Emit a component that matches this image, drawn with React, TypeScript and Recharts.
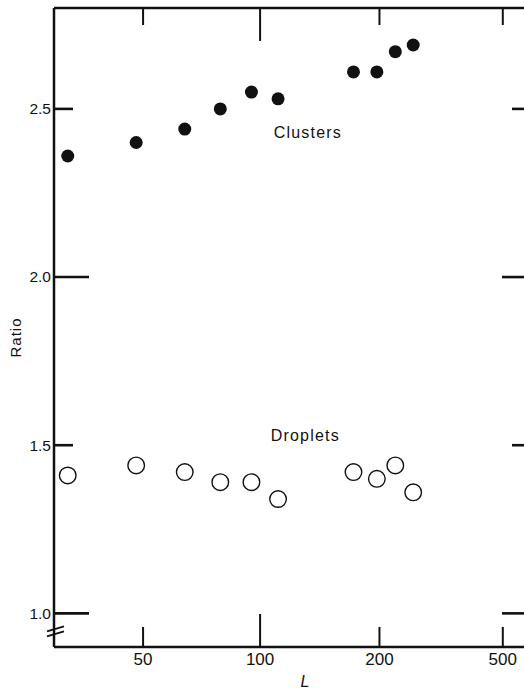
import React from 'react';
import { ScatterChart, Scatter, XAxis, YAxis, ReferenceDot } from 'recharts';

// ---- data ----
const L_VALUES = [32, 48, 64, 79, 95, 111, 172, 197, 225, 257];
const CLUSTER_RATIO = [2.36, 2.4, 2.44, 2.5, 2.55, 2.53, 2.61, 2.61, 2.67, 2.69];
const DROPLET_RATIO = [1.41, 1.44, 1.42, 1.39, 1.39, 1.34, 1.42, 1.4, 1.44, 1.36];
const X_TICKS = [50, 100, 200, 500];
const Y_TICKS = [1.0, 1.5, 2.0, 2.5];
const X_DOMAIN = [29.5, 612];
const Y_DOMAIN = [0.9, 2.8];
const SERIES_NAMES = ['Clusters', 'Droplets'];
const SERIES_LABEL_L = [132, 130];
const SERIES_LABEL_RATIO = [2.43, 1.53];

const clusterData = L_VALUES.map((x, i) => ({ x, y: CLUSTER_RATIO[i] }));
const dropletData = L_VALUES.map((x, i) => ({ x, y: DROPLET_RATIO[i] }));

// ---- axis warp: the printed L axis is log-like but not exactly logarithmic ----
const WARP_L = [50, 100, 200, 500];
const WARP_U = [0, 1, 2.02, 3.074];
const WARP_LOG = WARP_L.map((v) => Math.log(v));

function warp(v: number): number {
  const lv = Math.log(v);
  let i = 0;
  while (i < WARP_LOG.length - 2 && lv > WARP_LOG[i + 1]) i++;
  return WARP_U[i] + ((WARP_U[i + 1] - WARP_U[i]) * (lv - WARP_LOG[i])) / (WARP_LOG[i + 1] - WARP_LOG[i]);
}

function makeWarpScale(dom: number[] = [1, 10], rng: number[] = [0, 1]): any {
  let d = dom.slice();
  let r = rng.slice();
  const s: any = (v: number) => {
    const a = warp(Number(d[0]));
    const b = warp(Number(d[1]));
    return r[0] + ((r[1] - r[0]) * (warp(Number(v)) - a)) / (b - a);
  };
  s.domain = (x?: number[]) => {
    if (x === undefined) return d.slice();
    d = x.slice();
    return s;
  };
  s.range = (x?: number[]) => {
    if (x === undefined) return r.slice();
    r = x.slice();
    return s;
  };
  s.copy = () => makeWarpScale(d, r);
  s.ticks = () => X_TICKS.slice();
  s.tickFormat = () => (v: number) => String(v);
  return s;
}

const xScale = makeWarpScale(X_DOMAIN, [0, 1]);

// ---- styling ----
const INK = '#111';
const FONT = '"Liberation Sans", Arial, sans-serif';
const AXIS_LINE = { stroke: INK, strokeWidth: 2.5 };

const BottomTick = (props: any) => {
  const { x, y, payload } = props;
  const axisY = y - 6;
  const len = payload.value === 100 ? 33 : 20;
  return (
    <g>
      <line x1={x} x2={x} y1={axisY} y2={axisY - len} stroke={INK} strokeWidth={2} />
      <text x={x} y={y} dy="0.71em" textAnchor="middle" fontFamily={FONT} fontSize={17} fill={INK}>
        {payload.value}
      </text>
    </g>
  );
};

const TopTick = (props: any) => {
  const { x, y, payload } = props;
  const len = payload.value === 100 ? 33 : 17;
  return <line x1={x} x2={x} y1={y} y2={y + len} stroke={INK} strokeWidth={2} />;
};

const LeftTick = (props: any) => {
  const { x, y, payload } = props;
  const axisX = x + 3;
  const v = Number(payload.value);
  const major = Math.abs(v - Math.round(v)) < 1e-6;
  const len = major ? 35 : 19;
  return (
    <g>
      <line x1={axisX} x2={axisX + len} y1={y} y2={y} stroke={INK} strokeWidth={2.6} />
      <text x={x} y={y} dy="0.35em" textAnchor="end" fontFamily={FONT} fontSize={15.5} fill={INK}>
        {v.toFixed(1)}
      </text>
      {v === 1 ? (
        <g stroke={INK} strokeWidth={1.8}>
          <line x1={axisX - 7} y1={y + 18} x2={axisX + 10} y2={y + 13} />
          <line x1={axisX - 7} y1={y + 23} x2={axisX + 10} y2={y + 18} />
        </g>
      ) : null}
    </g>
  );
};

const RightTick = (props: any) => {
  const { x, y, payload } = props;
  const v = Number(payload.value);
  const major = Math.abs(v - Math.round(v)) < 1e-6;
  const len = major ? 28 : 18;
  return <line x1={x} x2={x - len} y1={y} y2={y} stroke={INK} strokeWidth={2.6} />;
};

const FilledDot = (p: any) => <circle cx={p.cx} cy={p.cy} r={6.5} fill={INK} />;
const OpenDot = (p: any) => (
  <circle cx={p.cx} cy={p.cy} r={8.3} fill="#fff" stroke={INK} strokeWidth={1.4} />
);

const ratioLabel = (p: any) => {
  const vb = p.viewBox || {};
  const cx = vb.x + 15;
  const cy = vb.y + vb.height / 2 + 10;
  return (
    <text
      x={cx}
      y={cy}
      transform={`rotate(-90, ${cx}, ${cy})`}
      textAnchor="middle"
      dominantBaseline="central"
      fontFamily={FONT}
      fontSize={15}
      letterSpacing={1}
      fill={INK}
    >
      Ratio
    </text>
  );
};

const lLabel = (p: any) => {
  const vb = p.viewBox || {};
  return (
    <text
      x={vb.x + vb.width / 2 + 13}
      y={vb.y + 34}
      textAnchor="middle"
      dominantBaseline="central"
      fontFamily={FONT}
      fontStyle="italic"
      fontSize={16}
      fill={INK}
    >
      L
    </text>
  );
};

const seriesLabel = (name: string) => (p: any) => {
  const vb = p.viewBox || {};
  return (
    <text
      x={vb.x + (vb.width || 0) / 2}
      y={vb.y + (vb.height || 0) / 2}
      textAnchor="middle"
      dominantBaseline="central"
      fontFamily={FONT}
      fontSize={16}
      letterSpacing={1.2}
      fill={INK}
    >
      {name}
    </text>
  );
};

export default function App() {
  return (
    <div
      style={{
        position: 'absolute',
        left: 0,
        top: 0,
        width: 524,
        height: 694,
        overflow: 'hidden',
        background: '#fff',
      }}
    >
      <ScatterChart width={540} height={694} margin={{ top: 6, right: 8, bottom: 7, left: 0 }}>
        <XAxis
          xAxisId="bottom"
          dataKey="x"
          type="number"
          scale={xScale}
          domain={X_DOMAIN}
          allowDataOverflow
          ticks={X_TICKS}
          interval={0}
          orientation="bottom"
          height={40}
          tickSize={0}
          tickMargin={6}
          tickLine={false}
          axisLine={AXIS_LINE}
          tick={BottomTick}
          label={lLabel}
        />
        <XAxis
          xAxisId="top"
          dataKey="x"
          type="number"
          scale={xScale}
          domain={X_DOMAIN}
          allowDataOverflow
          ticks={X_TICKS}
          interval={0}
          orientation="top"
          height={2}
          tickSize={0}
          tickMargin={0}
          tickLine={false}
          axisLine={AXIS_LINE}
          tick={TopTick}
        />
        <YAxis
          yAxisId="left"
          dataKey="y"
          type="number"
          domain={Y_DOMAIN}
          allowDataOverflow
          ticks={Y_TICKS}
          interval={0}
          orientation="left"
          width={54}
          tickSize={0}
          tickMargin={3}
          tickLine={false}
          axisLine={AXIS_LINE}
          tick={LeftTick}
          label={ratioLabel}
        />
        <YAxis
          yAxisId="right"
          dataKey="y"
          type="number"
          domain={Y_DOMAIN}
          allowDataOverflow
          ticks={Y_TICKS}
          interval={0}
          orientation="right"
          width={2}
          tickSize={0}
          tickMargin={0}
          tickLine={false}
          axisLine={false}
          tick={RightTick}
        />
        <Scatter
          name={SERIES_NAMES[0]}
          data={clusterData}
          xAxisId="bottom"
          yAxisId="left"
          shape={FilledDot}
          isAnimationActive={false}
        />
        <Scatter
          name={SERIES_NAMES[1]}
          data={dropletData}
          xAxisId="bottom"
          yAxisId="left"
          shape={OpenDot}
          isAnimationActive={false}
        />
        <Scatter
          data={[]}
          xAxisId="top"
          yAxisId="right"
          isAnimationActive={false}
        />
        {SERIES_NAMES.map((name, i) => (
          <ReferenceDot
            key={name}
            xAxisId="bottom"
            yAxisId="left"
            x={SERIES_LABEL_L[i]}
            y={SERIES_LABEL_RATIO[i]}
            r={0}
            fill="none"
            stroke="none"
            ifOverflow="visible"
            label={seriesLabel(name)}
          />
        ))}
      </ScatterChart>
    </div>
  );
}
